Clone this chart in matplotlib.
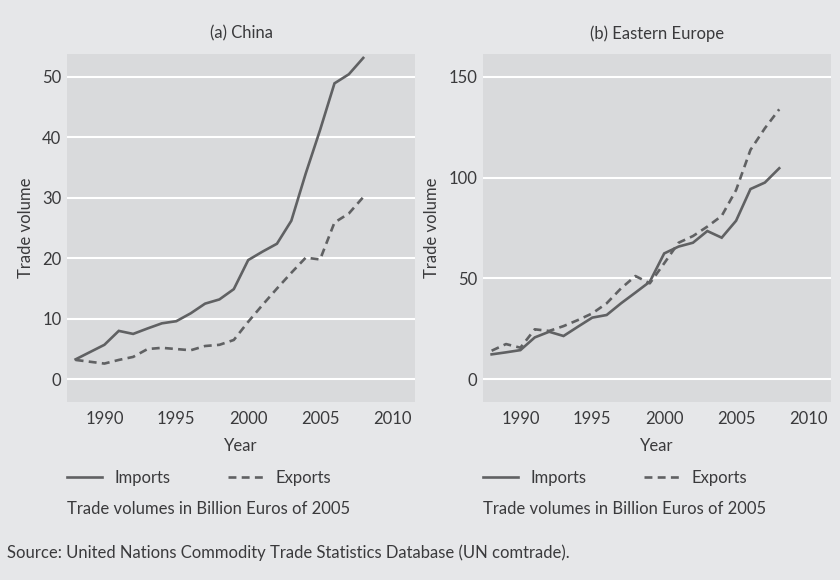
import matplotlib
matplotlib.use("Agg")
import matplotlib.pyplot as plt

# Data (billion euros of 2005)
years = list(range(1988, 2009))
china_imports = [3.3, 4.5, 5.7, 8.0, 7.5, 8.4, 9.25, 9.6, 10.9, 12.5, 13.2,
                 14.9, 19.7, 21.1, 22.4, 26.2, 34.0, 41.2, 48.9, 50.4, 53.1]
china_exports = [3.2, 2.9, 2.6, 3.2, 3.7, 5.0, 5.2, 5.0, 4.8, 5.5, 5.7,
                 6.5, 9.5, 12.3, 15.0, 17.6, 20.1, 19.8, 25.9, 27.4, 30.1]
ee_imports = [12.4, 13.4, 14.5, 20.8, 23.6, 21.5, 26.1, 30.6, 31.9, 37.7, 43.0,
              48.4, 62.4, 65.8, 67.7, 73.5, 70.2, 78.6, 94.3, 97.5, 104.6]
ee_exports = [14.2, 17.5, 15.7, 24.8, 24.0, 26.4, 29.4, 32.7, 37.7, 45.1, 51.2,
              47.6, 57.5, 67.7, 71.0, 75.7, 81.0, 93.8, 113.7, 124.4, 133.8]

titles = ["(a) China", "(b) Eastern Europe"]
xticks = [1990, 1995, 2000, 2005, 2010]
yticks_list = [[0, 10, 20, 30, 40, 50], [0, 50, 100, 150]]
ylims = [(-3.75, 53.75), (-11.2, 161.2)]

bg = "#e6e7e9"
panel = "#d9dadc"
line_col = "#606163"
text_col = "#3a3a3c"
fs = 12

plt.rcParams["font.family"] = ["Lato", "DejaVu Sans"]
plt.rcParams["font.size"] = fs
plt.rcParams["text.color"] = text_col

W, H = 840, 580
fig = plt.figure(figsize=(W / 100, H / 100), dpi=100, facecolor=bg)

def px_axes(x0, y0, x1, y1):
    return fig.add_axes([x0 / W, 1 - y1 / H, (x1 - x0) / W, (y1 - y0) / H])

panels = [
    (px_axes(67, 54, 415, 402), china_imports, china_exports),
    (px_axes(483, 54, 831, 402), ee_imports, ee_exports),
]

for i, (ax, imp, exp) in enumerate(panels):
    ax.set_facecolor(panel)
    for s in ax.spines.values():
        s.set_visible(False)
    ax.grid(axis="y", color="white", linewidth=1.5)
    ax.set_axisbelow(True)
    ax.plot(years, imp, color=line_col, linewidth=1.9, label="Imports",
            solid_joinstyle="miter")
    ax.plot(years, exp, color=line_col, linewidth=1.9, label="Exports",
            linestyle=(0, (3.0, 2.0)))
    ax.set_xlim(1987.4, 2011.6)
    ax.set_ylim(*ylims[i])
    ax.set_xticks(xticks)
    ax.set_yticks(yticks_list[i])
    ax.tick_params(length=0, labelsize=fs, labelcolor=text_col)
    ax.tick_params(axis="x", pad=6.5)
    ax.tick_params(axis="y", pad=4)
    ax.set_xlabel("Year", fontsize=fs, color=text_col, labelpad=8)
    ax.set_ylabel("Trade volume", fontsize=fs, color=text_col, labelpad=6)
    ax.set_title(titles[i], fontsize=fs, color=text_col, pad=11)
    leg = ax.legend(loc="center left", bbox_to_anchor=(0, -0.218), ncol=2,
                    frameon=False, handlelength=2.1, handletextpad=0.78,
                    columnspacing=3.4, borderaxespad=0, borderpad=0,
                    fontsize=fs)
    ax.text(0, -0.308, "Trade volumes in Billion Euros of 2005",
            transform=ax.transAxes, fontsize=fs, color=text_col,
            ha="left", va="center")

fig.text(7 / W, 1 - 553 / H,
         "Source: United Nations Commodity Trade Statistics Database (UN comtrade).",
         fontsize=fs, color=text_col, ha="left", va="center")

fig.savefig("out.png", dpi=100, facecolor=bg)
